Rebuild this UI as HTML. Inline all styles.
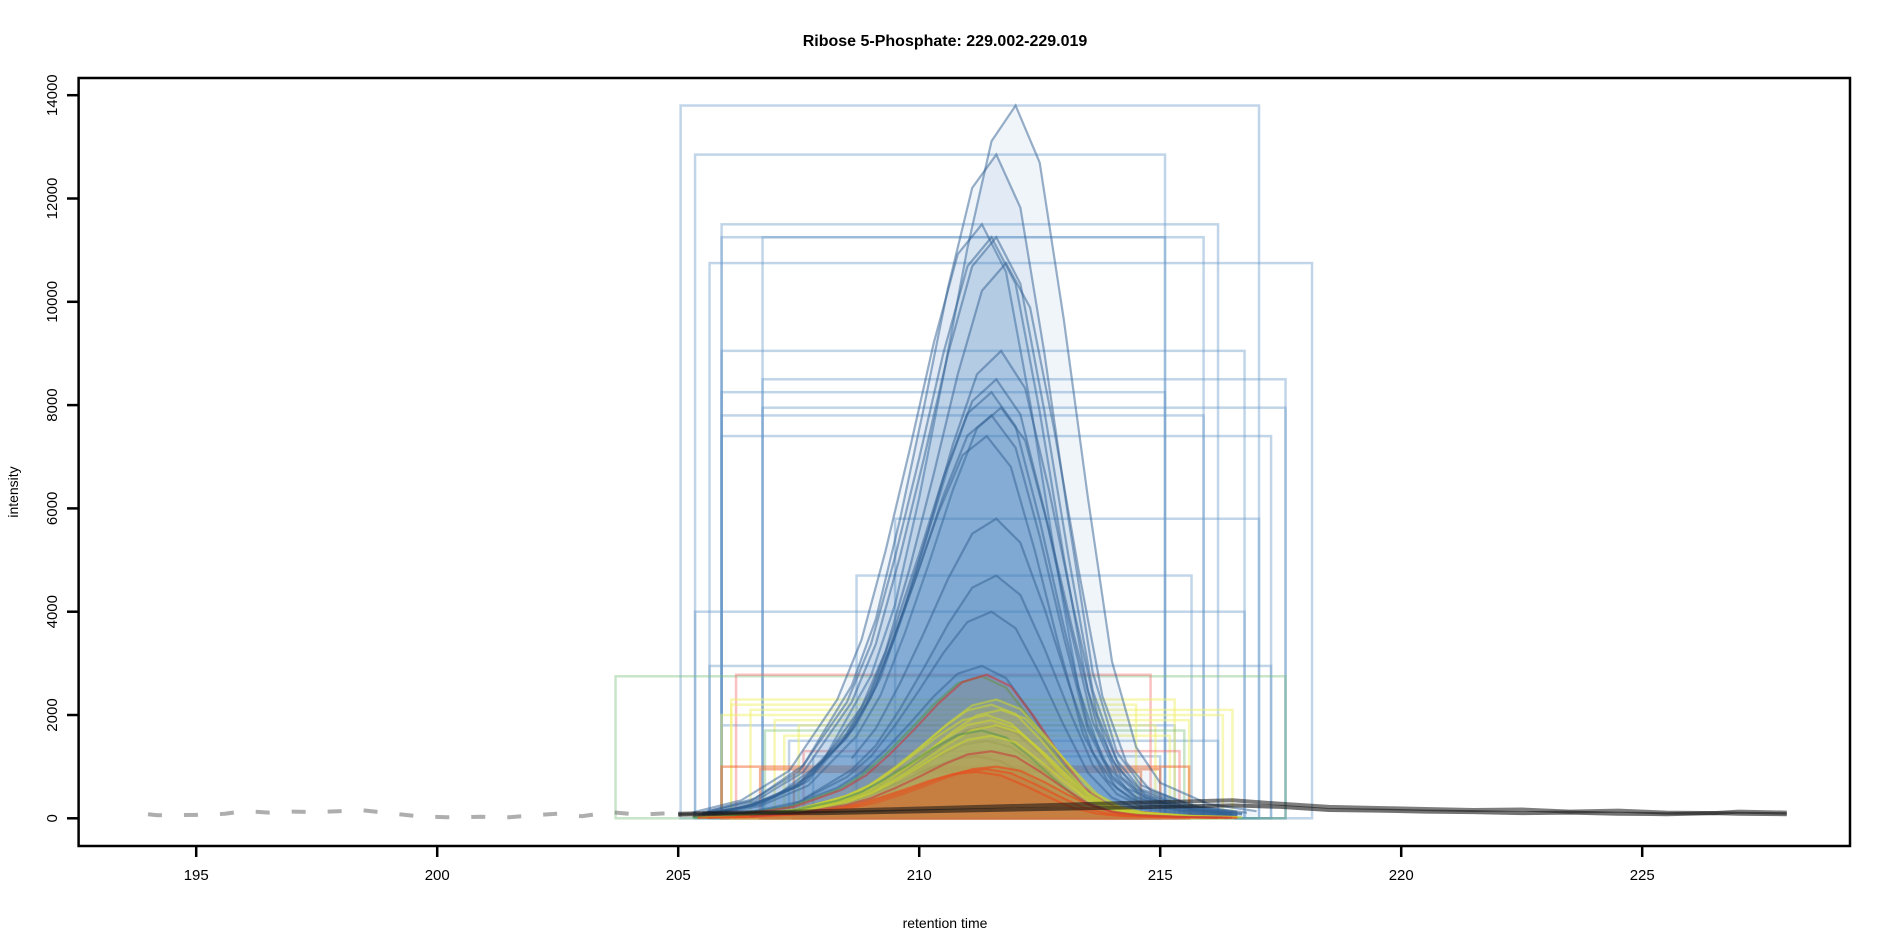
<!DOCTYPE html>
<html><head><meta charset="utf-8">
<style>
html,body{margin:0;padding:0;background:#fff;}
svg{display:block;font-family:"Liberation Sans",Arial,sans-serif;}
</style></head>
<body>
<svg id="chart" width="1889" height="944" viewBox="0 0 1889 944" xmlns="http://www.w3.org/2000/svg">
<text x="945" y="46" text-anchor="middle" font-size="16" font-weight="bold">Ribose 5-Phosphate: 229.002-229.019</text>
<text x="945" y="928" text-anchor="middle" font-size="14">retention time</text>
<text transform="translate(18,492) rotate(-90)" text-anchor="middle" font-size="14">intensity</text>
<g id="plot"></g>
<g id="axes"></g>
</svg>
<script>
// ---- data ----
const xTicks = [195, 200, 205, 210, 215, 220, 225];
const yTicks = [0, 2000, 4000, 6000, 8000, 10000, 12000, 14000];
// normalized peak profile (offset from apex in minutes, relative intensity)
const profileOffsets = [-6, -5, -4, -3, -2.5, -2, -1.5, -1, -0.5, 0, 0.5, 1, 1.5, 2, 2.5, 3, 4, 5];
const profileValues  = [0.01, 0.03, 0.08, 0.2, 0.3, 0.45, 0.62, 0.8, 0.95, 1, 0.92, 0.7, 0.45, 0.22, 0.1, 0.05, 0.02, 0.01];
// peaks: apex rt, heights, box left, box right, group
const peakApex   = [212.0, 211.6, 211.3, 211.5, 211.6, 211.8, 211.7, 211.6, 211.5, 211.7, 211.5, 211.4, 211.6, 211.6, 211.5, 211.3, 211.5, 211.4, 211.2, 211.3, 211.4, 211.6, 211.5, 211.7, 211.4, 211.5, 211.6, 211.3, 211.5, 211.6, 211.4, 211.2, 211.5];
const peakHeight = [13800, 12850, 11500, 11250, 11250, 10750, 9050, 8500, 8250, 7950, 7800, 7400, 5800, 4700, 4000, 2950, 1800, 1500, 1200, 2750, 2780, 2300, 2200, 2100, 2000, 1900, 1800, 1700, 1600, 1000, 950, 900, 1300];
const boxLeft    = [205.05, 205.35, 205.9, 205.9, 206.75, 205.65, 205.9, 206.75, 205.9, 206.75, 205.9, 205.9, 209.5, 208.7, 205.35, 205.65, 205.9, 207.3, 207.8, 203.7, 206.2, 206.1, 206.1, 206.5, 205.9, 207.0, 207.5, 206.8, 207.2, 205.9, 206.7, 207.4, 207.6];
const boxRight   = [217.05, 215.1, 216.2, 215.9, 215.1, 218.15, 216.75, 217.6, 215.1, 217.6, 215.9, 217.3, 217.05, 215.65, 216.75, 217.3, 215.3, 216.2, 215.0, 217.6, 214.8, 215.3, 214.5, 216.5, 216.3, 215.6, 214.9, 215.5, 215.2, 215.6, 215.0, 214.6, 215.4];
const peakGroup  = [0,0,0,0,0,0,0,0,0,0,0,0,0,0,0,0,0,0,0, 1,2,3,3,3,3,3,3,1,3,4,4,4,2];
// baseline noise
const noiseLeftRT   = [194.0, 194.2, 195.3, 195.6, 196.0, 196.5, 197.0, 197.5, 198.0, 198.4, 198.9, 199.6, 200.2, 200.9, 201.5, 202.0, 202.5, 203.0, 203.6, 204.2, 204.8];
const noiseLeftVals = [80, 60, 70, 90, 140, 110, 130, 120, 140, 160, 110, 40, 20, 30, 20, 60, 90, 40, 120, 70, 100];
const noiseRightRT   = [205.0, 206.0, 207.0, 208.0, 216.5, 217.5, 218.5, 219.5, 220.5, 221.5, 222.5, 223.5, 224.5, 225.5, 226.5, 227.0, 228.0];
const noiseRightVals = [90, 110, 120, 140, 350, 280, 220, 200, 180, 160, 170, 130, 150, 110, 100, 130, 110];
const noiseRightVals2 = [70, 90, 100, 100, 250, 220, 160, 150, 130, 120, 100, 110, 90, 80, 100, 90, 80];

// ---- scales ----
const X = rt => 78.6 + (rt - 192.56) * 48.2;
const Y = v => 818.3 - v * 0.05165;
const NS = "http://www.w3.org/2000/svg";
const plot = document.getElementById('plot');
const axes = document.getElementById('axes');
function mk(tag, attrs, parent){const e=document.createElementNS(NS,tag);for(const k in attrs)e.setAttribute(k,attrs[k]);parent.appendChild(e);return e;}

const boxCols  = ['rgba(100,150,200,0.4)','rgba(120,190,120,0.4)','rgba(240,100,100,0.4)','rgba(240,240,110,0.5)','rgba(240,100,40,0.5)'];
const lineCols = ['rgba(50,95,145,0.5)','rgba(90,150,80,0.6)','rgba(200,60,60,0.6)','rgba(200,210,50,0.6)','rgba(230,80,30,0.7)'];
const fillCols = ['rgba(70,130,190,0.08)','rgba(110,170,90,0.1)','rgba(220,100,60,0.12)','rgba(220,200,60,0.12)','rgba(210,110,50,0.3)'];

// boxes
for(let i=0;i<peakApex.length;i++){
  const r = mk('rect',{x:X(boxLeft[i]),y:Y(peakHeight[i]),width:X(boxRight[i])-X(boxLeft[i]),height:Y(0)-Y(peakHeight[i]),fill:'none',stroke:boxCols[peakGroup[i]],'stroke-width':2.5},plot);
  
  
}
// peaks
for(let i=0;i<peakApex.length;i++){
  let pts=[];
  for(let j=0;j<profileOffsets.length;j++){
    const rt=peakApex[i]+profileOffsets[j];
    if(rt<boxLeft[i]-1.5) continue;
    pts.push(X(rt).toFixed(1)+','+Y(peakHeight[i]*profileValues[j]).toFixed(1));
  }
  const g=peakGroup[i];
  const f = mk('polygon',{points:pts.join(' ')+' '+pts[pts.length-1].split(',')[0]+','+Y(0)+' '+pts[0].split(',')[0]+','+Y(0),fill:fillCols[g],stroke:'none'},plot);
  
  
  const l = mk('polyline',{points:pts.join(' '),fill:'none',stroke:lineCols[g],'stroke-width':2.2},plot);
  
  
}
// noise
function noise(rts, vals, stroke, dash, w){
  const p = rts.map((r,k)=>X(r).toFixed(1)+','+Y(vals[k]).toFixed(1)).join(' ');
  const el = mk('polyline',{points:p,fill:'none',stroke:stroke,'stroke-width':w,'stroke-dasharray':dash},plot);
  
  
}
noise(noiseLeftRT, noiseLeftVals, 'rgba(120,120,120,0.6)', '14,22', 4);
noise(noiseRightRT, noiseRightVals, 'rgba(20,20,20,0.55)', 'none', 4);
noise(noiseRightRT, noiseRightVals2, 'rgba(20,20,20,0.6)', 'none', 4);

// axes frame
const fr = mk('rect',{x:78.6,y:78,width:1850-78.6,height:846-78,fill:'none',stroke:'#000','stroke-width':2.5},axes);


xTicks.forEach(t=>{
  const tk = mk('line',{x1:X(t),x2:X(t),y1:846,y2:857,stroke:'#000','stroke-width':2.5},axes);
  
  
  const tx = mk('text',{x:X(t),y:880,'text-anchor':'middle','font-size':15},axes);
  tx.textContent=t;
  
  
});
yTicks.forEach(t=>{
  const tk = mk('line',{x1:67,x2:78.6,y1:Y(t),y2:Y(t),stroke:'#000','stroke-width':2.5},axes);
  
  
  const tx = mk('text',{x:0,y:0,'text-anchor':'middle','font-size':15,transform:'translate(57,'+Y(t)+') rotate(-90)'},axes);
  tx.textContent=t;
  
  
});
</script>
</body></html>
